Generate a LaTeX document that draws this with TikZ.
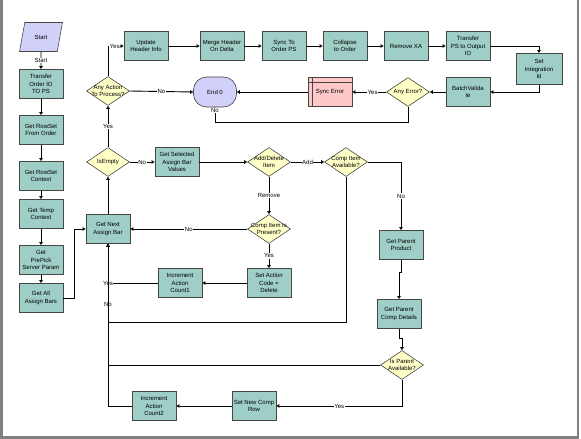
\documentclass[tikz,border=0pt]{standalone}
\usepackage{fontspec}
\setmainfont{Liberation Sans}
\usetikzlibrary{arrows.meta,shapes.geometric,calc}
\definecolor{boxfill}{RGB}{158,206,198}
\definecolor{diafill}{RGB}{255,255,200}
\definecolor{lav}{RGB}{208,208,248}
\definecolor{pinkfill}{RGB}{255,200,200}
\definecolor{edgegray}{RGB}{70,70,70}
\definecolor{framegray}{RGB}{128,128,128}
\tikzset{
  txt/.style={font=\fontsize{6}{7.5}\selectfont},
  box/.style={txt, draw=edgegray, line width=0.8pt, fill=boxfill, minimum width=44pt, minimum height=29pt, inner sep=1pt, align=center},
  dia/.style={draw=edgegray, line width=0.6pt, fill=diafill, shape=diamond, minimum width=43pt, minimum height=29pt, inner sep=0pt},
  dtext/.style={txt, align=center, inner sep=0pt},
  endbox/.style={txt, draw=edgegray, line width=0.6pt, fill=lav, minimum width=43pt, minimum height=30pt, rounded corners=13pt},
  startbox/.style={txt, draw=edgegray, line width=0.6pt, fill=lav, shape=trapezium, trapezium left angle=74, trapezium right angle=106, trapezium stretches=true, minimum width=43pt, minimum height=29pt},
  errbox/.style={txt, draw=edgegray, line width=0.6pt, fill=pinkfill, minimum width=44pt, minimum height=29pt},
  arr/.style={draw=black, line width=0.9pt, -{Triangle[open, fill=white, length=3pt, width=3.5pt]}},
  lab/.style={txt, fill=white, inner sep=0.5pt},
}
\begin{document}
\begin{tikzpicture}[x=1pt,y=-1pt]
\useasboundingbox (0,0) rectangle (581,439);
\fill[white] (0,0) rectangle (581,439);
% frame
\fill[framegray] (0,0) rectangle (2.5,439);
\fill[framegray] (0,436) rectangle (579,439);
\fill[framegray] (576.5,0) rectangle (579,439);

% left column
\node[startbox] (start) at (41,37) {Start};
\node[box] (t1) at (41,84) {Transfer\\Order IO\\TO PS};
\node[box] (t2) at (41,130) {Get RowSet\\From Order};
\node[box] (t3) at (41,176) {Get RowSet\\Context};
\node[box] (t4) at (41,214) {Get Temp\\Context};
\node[box] (t5) at (41,260) {Get\\PrePick\\Server Param};
\node[box] (t6) at (41,298) {Get All\\Assign Bars};

% second column
\node[box] (next) at (108,229) {Get Next\\Assign Bar};
\node[dia, label={[dtext]center:IsEmpty}] (isempty) at (108,162) {};
\node[dia, label={[dtext]center:Any Action\\To Process?}] (anyact) at (108,91) {};

% top row
\node[box] (upd) at (146,46) {Update\\Header Info};
\node[box] (merge) at (222,46) {Merge Header\\On Delta};
\node[box] (sync) at (284,46) {Sync To\\Order PS};
\node[box] (collapse) at (345,46) {Collapse\\to Order};
\node[box] (remxa) at (406,46) {Remove XA};
\node[box] (trps) at (468,46) {Transfer\\PS to Output\\IO};
\node[box, minimum width=46pt, minimum height=31pt] (setid) at (539,69) {Set\\Integration\\Id};

% second row
\node[box] (batch) at (468,92) {BatchValida\\te};
\node[dia, label={[dtext]center:Any Error?}] (anyerr) at (408,92) {};
\node[errbox] (syncerr) at (330,92) {Sync Error};
\draw[draw=edgegray, line width=0.6pt] ([yshift=-5pt]syncerr.north west) -- ([yshift=-5pt]syncerr.north east);
\draw[draw=edgegray, line width=0.6pt] ([xshift=5pt]syncerr.north west) -- ([xshift=5pt]syncerr.south west);
\node[endbox] (end0) at (215,92) {End 0};

% middle
\node[box] (getsel) at (177,162) {Get Selected\\Assign Bar\\Values};
\node[dia, label={[dtext]center:Add/Delete\\Item}] (adddel) at (269,162) {};
\node[dia, label={[dtext]center:Comp Item\\Available?}] (compavail) at (346,162) {};
\node[dia, label={[dtext]center:Comp Item Is\\Present?}] (comppres) at (269,229) {};
\node[box] (setact) at (269,283) {Set Action\\Code =\\Delete};
\node[box] (inc1) at (180,283) {Increment\\Action\\Count1};
\node[box] (getpp) at (401,245) {Get Parent\\Product};
\node[box] (getpcd) at (399,314) {Get Parent\\Comp Details};
\node[dia, label={[dtext]center:Is Parent\\Available?}] (isparent) at (402,365) {};
\node[box] (setnew) at (254,406) {Set New Comp\\Row};
\node[box] (inc2) at (154,406) {Increment\\Action\\Count2};

% connectors
\draw[arr] (start) -- node[lab] {Start} (t1);
\draw[arr] (t1) -- (t2);
\draw[arr] (t2) -- (t3);
\draw[arr] (t3) -- (t4);
\draw[arr] (t4) -- (t5);
\draw[arr] (t5) -- (t6);
\draw[arr] (t6.east) -- ++(11,0) |- (next.west);
\draw[arr] (next) -- (isempty);
\draw[arr] (isempty) -- node[lab] {Yes} (anyact);
\draw[arr] (anyact.north) |- node[lab, pos=0.72] {Yes} (upd.west);
\draw[arr] (anyact.east) -- node[lab] {No} (end0.west);
\draw[arr] (upd) -- (merge);
\draw[arr] (merge) -- (sync);
\draw[arr] (sync) -- (collapse);
\draw[arr] (collapse) -- (remxa);
\draw[arr] (remxa) -- (trps);
\draw[arr] (trps.east) -| (setid.north);
\draw[arr] (setid.south) |- (batch.east);
\draw[arr] (batch.west) -- (anyerr.east);
\draw[arr] (anyerr.west) -- node[lab, pos=0.4] {Yes} (syncerr.east);
\draw[arr] (syncerr.west) -- (end0.east);
\draw[arr] (anyerr.south) -- ++(0,16) -| node[lab, pos=0.9] {No} (end0.south);
\draw[arr] (isempty.east) -- node[lab] {No} (getsel.west);
\draw[arr] (getsel.east) -- (adddel.west);
\draw[arr] (adddel.east) -- node[lab] {Add} (compavail.west);
\draw[arr] (adddel.south) -- node[lab] {Remove} (comppres.north);
\draw[arr] (comppres.west) -- node[lab, pos=0.5] {No} (next.east);
\draw[arr] (comppres.south) -- node[lab] {Yes} (setact.north);
\draw[arr] (setact.west) -- (inc1.east);
\draw[arr] (inc1.west) -| node[lab, pos=0.5] {Yes} (next.south);
\draw[arr] (compavail.south) -- ++(0,146) -| (next.south);
\draw[arr] (compavail.east) -| node[lab, pos=0.75] {No} (getpp.north);
\draw[arr] (getpp.south) -- ++(0,13) -| (getpcd.north);
\draw[arr] (getpcd.south) -- ++(0,10) -| (isparent.north);
\draw[arr] (isparent.west) -| node[lab, pos=0.75] {No} (next.south);
\draw[arr] (isparent.south) |- node[lab, pos=0.75] {Yes} (setnew.east);
\draw[arr] (setnew.west) -- (inc2.east);
\draw[arr] (inc2.west) -| (next.south);
\end{tikzpicture}
\end{document}
